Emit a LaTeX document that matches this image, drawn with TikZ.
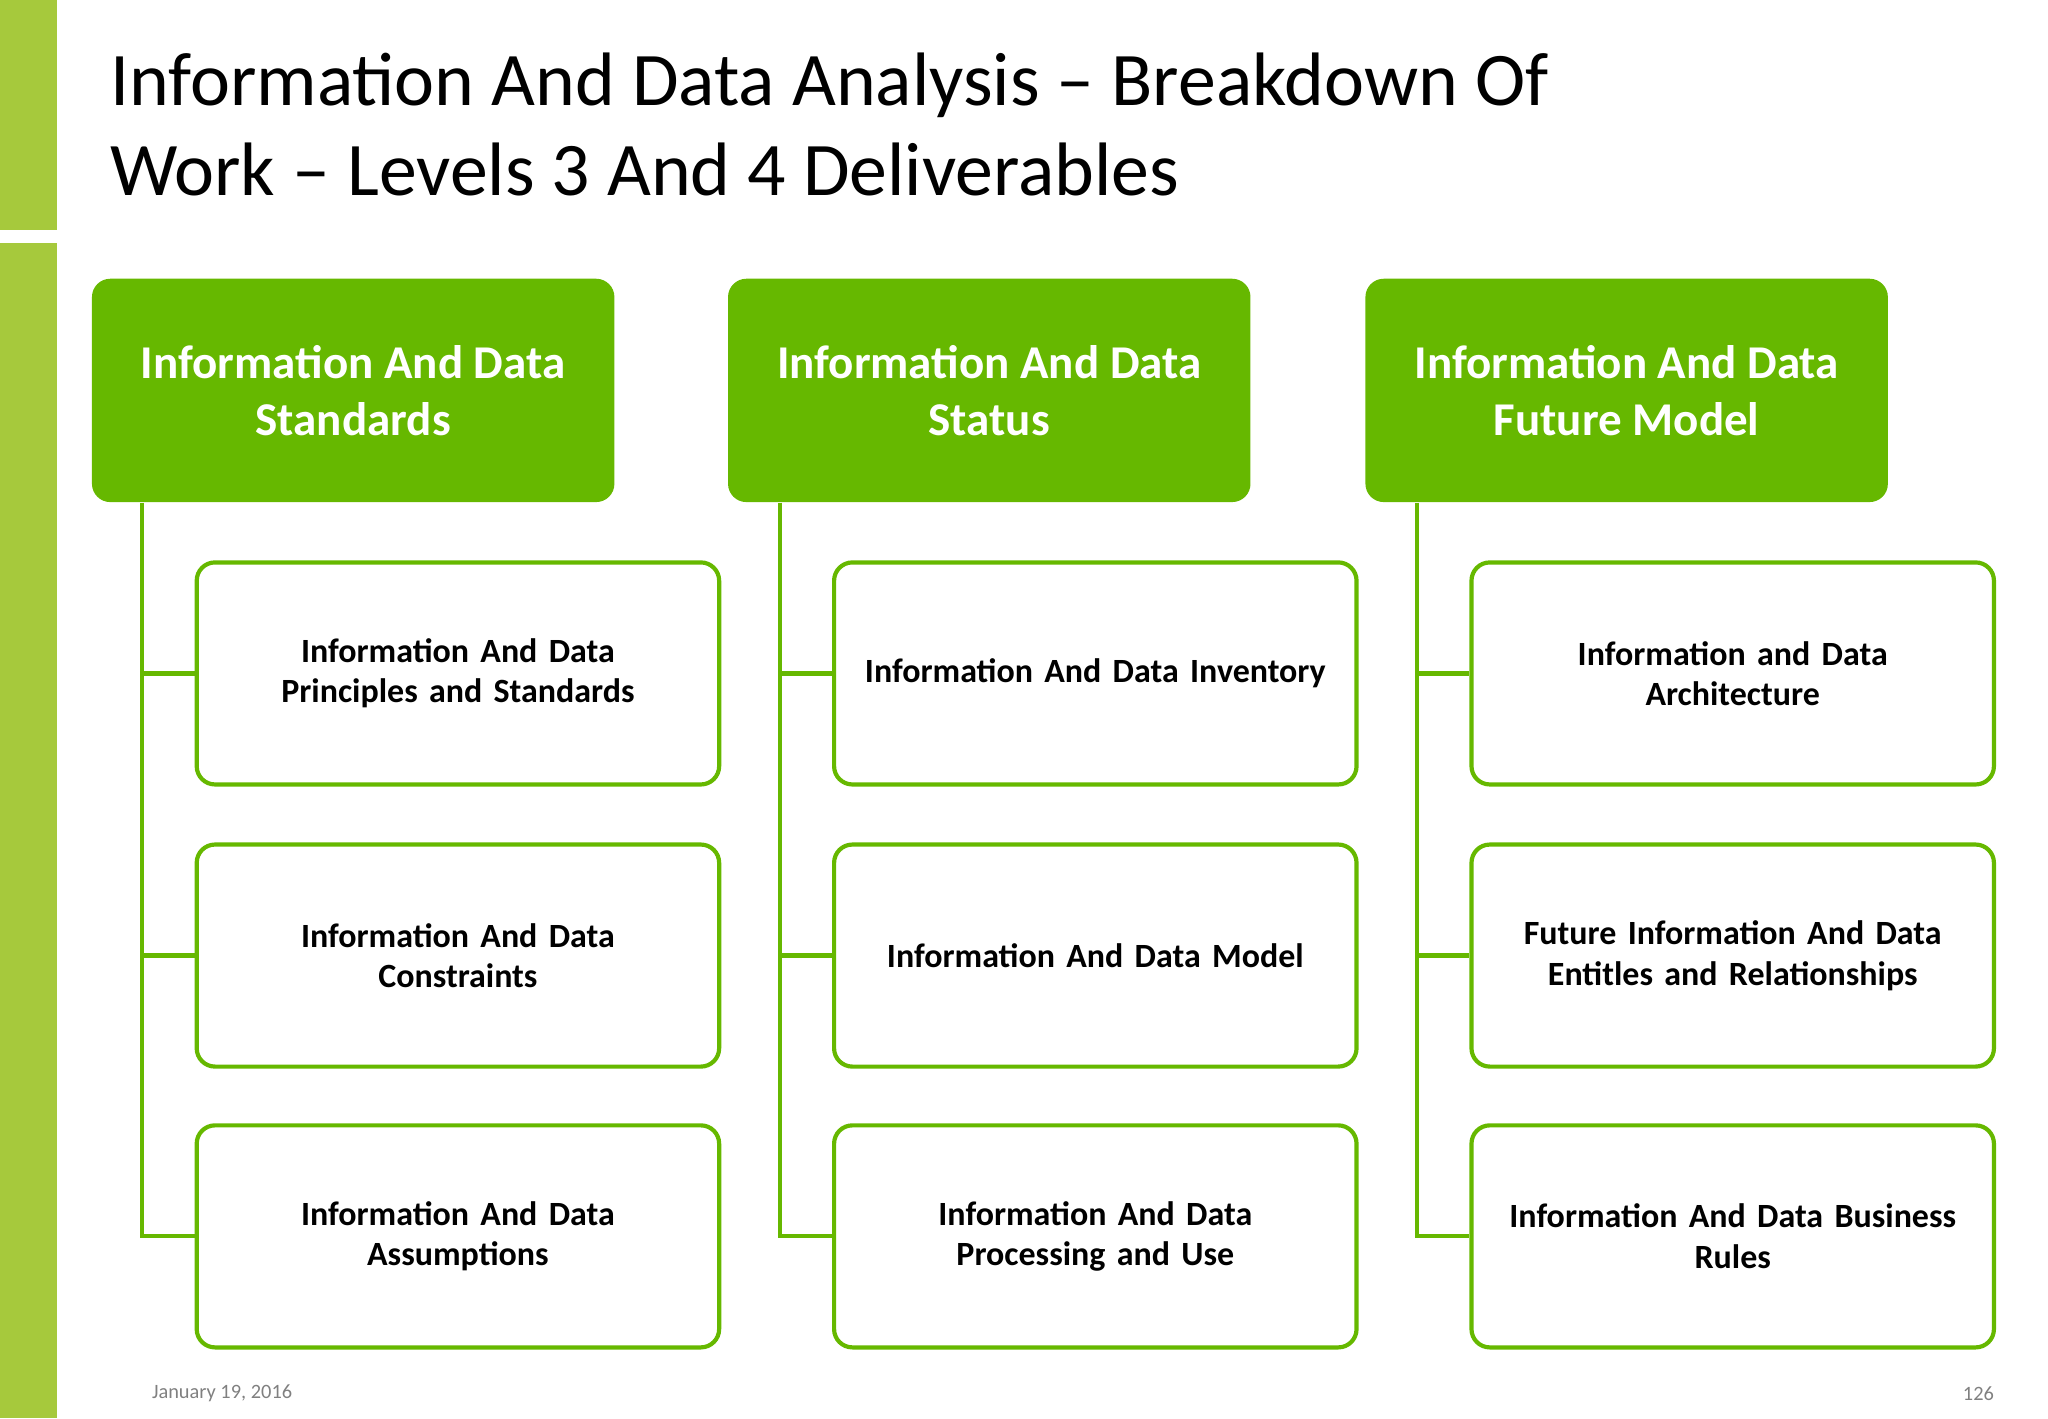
\documentclass[tikz,border=0pt]{standalone}
\usepackage{fontspec}
\setmainfont{Carlito}
\definecolor{hg}{HTML}{66B800}
\definecolor{bar}{HTML}{A6C93C}
\begin{document}
\begin{tikzpicture}[x=0.5pt,y=-0.5pt,
 head/.style={fill=hg,draw=none,rounded corners=7pt,minimum width=200pt,minimum height=85.5pt,anchor=north west,text=white,font=\bfseries\fontsize{18}{22}\selectfont,align=center},
 child/.style={draw=hg,line width=1.6pt,fill=white,rounded corners=7pt,minimum width=200pt,minimum height=85pt,anchor=north west,font=\bfseries\fontsize{13}{15.5}\selectfont,align=center,text width=192pt},
 conn/.style={draw=hg,line width=1.6pt}]
\useasboundingbox (0,0) rectangle (1568,1086);
\fill[bar] (0,0) rectangle (44,176);
\fill[bar] (0,186) rectangle (44,1086);
\node[anchor=north west,font=\fontsize{29}{34.5}\selectfont,align=left,inner sep=0] (title) at (84,40) {Information And Data Analysis -- Breakdown Of\\Work -- Levels 3 And 4 Deliverables};
\foreach \i/\hx/\cx/\htxt/\ca/\cb/\cc in {
 1/70/149/{Information And Data\\Standards}/{Information And Data Principles and Standards}/{Information And Data\\Constraints}/{Information And Data\\Assumptions},
 2/557/637/{Information And Data\\Status}/{Information And Data Inventory}/{Information And Data Model}/{Information And Data\\Processing and Use},
 3/1045/1125/{Information And Data\\Future Model}/{Information and Data\\Architecture}/{Future Information And Data\\Entitles and Relationships}/{Information And Data Business\\Rules}}{
 \node[head] (h\i) at (\hx,213) {\htxt};
 \node[child] (a\i) at (\cx,429) {\ca};
 \node[child] (b\i) at (\cx,645) {\cb};
 \node[child] (c\i) at (\cx,860) {\cc};
 \coordinate (t\i) at ([xshift=-20pt]a\i.west |- h\i.south);
 \draw[conn] (t\i) |- (c\i.west);
 \draw[conn] ([xshift=-20pt]a\i.west) -- (a\i.west);
 \draw[conn] ([xshift=-20pt]b\i.west) -- (b\i.west);
}
\node[font=\fontsize{7.8}{9}\selectfont,text=gray,anchor=west,inner sep=0] (d) at (116,1067) {January 19, 2016};
\node[font=\fontsize{7.8}{9}\selectfont,text=gray,anchor=east,inner sep=0] (p) at (1527,1067) {126};
\end{tikzpicture}
\end{document}
